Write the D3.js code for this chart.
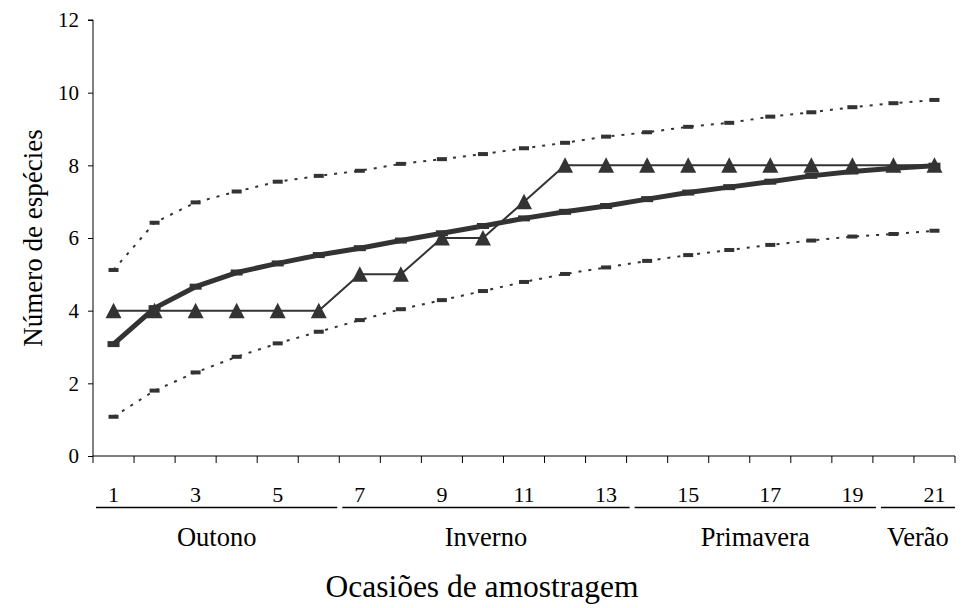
<!DOCTYPE html>
<html>
<head>
<meta charset="utf-8">
<script src="https://cdn.jsdelivr.net/npm/d3@7"></script>
<style>
  html, body { margin: 0; padding: 0; background: #fff; }
  svg { display: block; }
</style>
</head>
<body>
<svg id="chart" width="962" height="608" font-family="'Liberation Serif', 'Times New Roman', serif"></svg>
<script>
// Sampling occasions (1..21)
const occasions = d3.range(1, 22);
// Observed cumulative number of species
const observed = [4, 4, 4, 4, 4, 4, 5, 5, 6, 6, 7, 8, 8, 8, 8, 8, 8, 8, 8, 8, 8];
// Expected species richness (rarefaction curve)
const expected = [3.08, 4.07, 4.66, 5.05, 5.30, 5.53, 5.72, 5.93, 6.13, 6.33, 6.54,
                  6.72, 6.88, 7.07, 7.25, 7.40, 7.55, 7.71, 7.83, 7.92, 7.99];
// Upper and lower 95% confidence limits
const upper = [5.12, 6.42, 6.98, 7.28, 7.55, 7.71, 7.85, 8.04, 8.17, 8.31, 8.47,
               8.62, 8.79, 8.91, 9.06, 9.17, 9.34, 9.46, 9.60, 9.71, 9.80];
const lower = [1.08, 1.80, 2.30, 2.73, 3.10, 3.42, 3.74, 4.04, 4.29, 4.54, 4.79,
               5.01, 5.19, 5.37, 5.53, 5.67, 5.81, 5.93, 6.04, 6.11, 6.20];
// Tick labels on the x axis
const xTickLabels = ["1", "3", "5", "7", "9", "11", "13", "15", "17", "19", "21"];
const yTicks = [0, 2, 4, 6, 8, 10, 12];
// Seasons: name, first and last occasion
const seasons = ["Outono", "Inverno", "Primavera", "Verão"];
const seasonStart = [1, 7, 14, 20];
const seasonEnd = [6, 13, 19, 21];

const FONT = "'Liberation Serif', 'Times New Roman', serif";
const svg = d3.select("#chart");
const margin = { left: 93, right: 7, top: 20, bottom: 152 };
const W = 962, H = 608;

const x = d3.scaleBand()
  .domain(occasions)
  .range([margin.left, W - margin.right])
  .paddingInner(0).paddingOuter(0);
const xc = d => x(d) + x.bandwidth() / 2;
const y = d3.scaleLinear().domain([0, 12]).range([H - margin.bottom, margin.top]);

const ink = "#333";

// Y axis
const yAxis = d3.axisLeft(y).tickValues(yTicks).tickSize(5).tickPadding(9);
const gy = svg.append("g").attr("transform", `translate(${margin.left},0)`).call(yAxis)
  .attr("font-family", FONT).attr("font-size", 21);
gy.select(".domain").attr("stroke", "#000").attr("stroke-width", 1).attr("d",
  `M-5,${y(12)}H0V${y(0)}`);
gy.selectAll(".tick line").attr("stroke", "#000");
gy.selectAll(".tick text").attr("fill", "#000");

// X axis: ticks at category boundaries
const boundaries = occasions.map(d => x(d)).concat([W - margin.right]);
const gx = svg.append("g").attr("font-family", FONT);
gx.append("line")
  .attr("x1", margin.left).attr("x2", W - margin.right)
  .attr("y1", y(0)).attr("y2", y(0))
  .attr("stroke", "#000").attr("stroke-width", 1);
gx.selectAll("line.tk").data(boundaries).join("line")
  .attr("class", "tk")
  .attr("x1", d => d).attr("x2", d => d)
  .attr("y1", y(0)).attr("y2", y(0) + 7)
  .attr("stroke", "#000").attr("stroke-width", 1);
gx.selectAll("text.tl").data(xTickLabels).join("text")
  .attr("class", "tl")
  .attr("x", d => xc(+d))
  .attr("y", 502)
  .attr("text-anchor", "middle")
  .attr("font-size", 22)
  .text(d => d);

// Season underlines and names
seasons.forEach((s, i) => {
  const x0 = x(seasonStart[i]) + (i >= 2 ? 8 : 3);
  const x1 = Math.min(x(seasonEnd[i]) + x.bandwidth() + (i >= 1 ? 3 : -2), W - margin.right);
  gx.append("line")
    .attr("x1", x0).attr("x2", x1)
    .attr("y1", 507.5).attr("y2", 507.5)
    .attr("stroke", "#000").attr("stroke-width", 1.5);
  const t = gx.append("text")
    .attr("y", 546)
    .attr("font-size", 26.5)
    .text(s);
  const tw = t.node().getComputedTextLength();
  // keep the label inside the axis on the right
  const cx = Math.min((x0 + x1) / 2, W - margin.right - tw / 2);
  t.attr("x", cx - tw / 2);
});

// Axis titles
svg.append("text")
  .attr("x", 482)
  .attr("y", 597)
  .attr("text-anchor", "middle")
  .attr("font-family", FONT)
  .attr("font-size", 31.5)
  .text("Ocasiões de amostragem");
svg.append("text")
  .attr("transform", `translate(42,238) rotate(-90)`)
  .attr("text-anchor", "middle")
  .attr("font-family", FONT)
  .attr("font-size", 27)
  .text("Número de espécies");

const line = d3.line().x((d, i) => xc(occasions[i])).y(d => y(d));

// Confidence limits: dotted lines with small dash markers
[upper, lower].forEach(arr => {
  svg.append("path").datum(arr)
    .attr("d", line)
    .attr("fill", "none")
    .attr("stroke", ink)
    .attr("stroke-width", 2)
    .attr("stroke-dasharray", "3,7");
  svg.selectAll(null).data(arr).join("rect")
    .attr("x", (d, i) => xc(occasions[i]) - 5)
    .attr("y", d => y(d) - 2)
    .attr("width", 10).attr("height", 4)
    .attr("fill", ink);
});

// Expected richness: thick line
svg.append("path").datum(expected)
  .attr("d", line)
  .attr("fill", "none")
  .attr("stroke", ink)
  .attr("stroke-width", 5)
  .attr("stroke-linejoin", "round");
svg.selectAll(null).data(expected).join("rect")
  .attr("x", (d, i) => xc(occasions[i]) - 6)
  .attr("y", d => y(d) - 3)
  .attr("width", 12).attr("height", 6)
  .attr("fill", ink);

// Observed richness: thin line with triangles
svg.append("path").datum(observed)
  .attr("d", line)
  .attr("fill", "none")
  .attr("stroke", ink)
  .attr("stroke-width", 2);
const triPath = "M0,-8L8,7.5L-8,7.5Z";
svg.selectAll(null).data(observed).join("path")
  .attr("transform", (d, i) => `translate(${xc(occasions[i])},${y(d)})`)
  .attr("d", triPath)
  .attr("fill", ink);
</script>
</body>
</html>
